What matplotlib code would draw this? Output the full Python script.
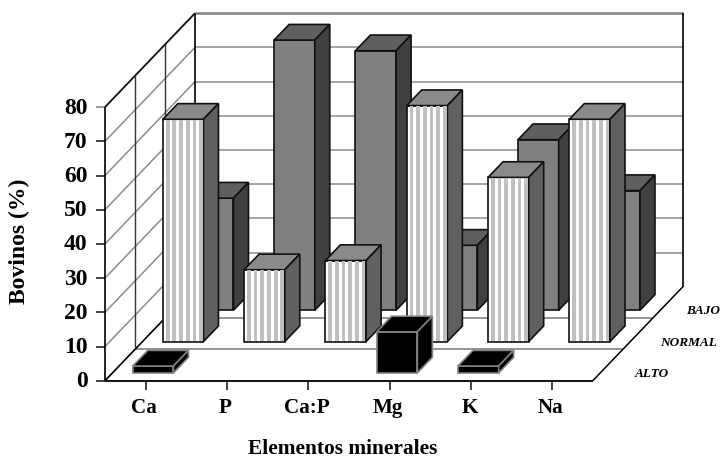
import matplotlib
matplotlib.use('Agg')
import matplotlib.pyplot as plt
from matplotlib.patches import Polygon, Rectangle

plt.rcParams['font.family'] = ['Liberation Serif', 'DejaVu Serif']

# Datos
categorias = ['Ca', 'P', 'Ca:P', 'Mg', 'K', 'Na']
filas = ['ALTO', 'NORMAL', 'BAJO']
alto = [2, 0, 0, 12, 2, 0]
normal = [65, 21, 23.7, 69, 48, 65]
bajo = [32.8, 79, 75.9, 19, 49.9, 35]
valores = [alto, normal, bajo]
ticks_y = [0, 10, 20, 30, 40, 50, 60, 70, 80]

# Proyeccion oblicua, en pixeles de la figura
x0, y0 = 105, 381.7
ancho_cat = 81.3
px_valor = 3.42
prof_x, prof_y = 30, 31.3
n_cat = len(categorias)
n_fil = len(filas)
v_max = ticks_y[-1]


def proy(c, f, v):
    # c: posicion de categoria, f: posicion de fila, v: valor
    return (x0 + c * ancho_cat + f * prof_x, y0 - f * prof_y - v * px_valor)


fig = plt.figure(figsize=(7.2, 4.6), dpi=100)
ax = fig.add_axes([0, 0, 1, 1])
ax.set_xlim(0, 720)
ax.set_ylim(460, 0)
ax.axis('off')


def linea(p, q, color, lw=1.0, z=1):
    ax.plot([p[0], q[0]], [p[1], q[1]], color=color, lw=lw, zorder=z, solid_capstyle='butt')


# Paredes: lineas de division
gris = '#8c8c8c'
for t in ticks_y:
    lw = 2.0 if t == v_max else 1.1
    if t > 0:
        linea(proy(0, n_fil, t), proy(n_cat, n_fil, t), gris, lw)
        linea(proy(0, 0, t), proy(0, n_fil, t), gris, lw if t < v_max else 1.6)
    linea((x0 - 9, y0 - t * px_valor), (x0, y0 - t * px_valor), '#222222' if t < v_max else gris, 1.2)

# Piso
for f in range(1, n_fil):
    linea(proy(0, f, 0), proy(n_cat, f, 0), gris, 1.3)
    linea(proy(0, f, 0), proy(0, f, v_max), '#333333', 1.0)

linea(proy(0, n_fil, 0), proy(0, n_fil, v_max), 'black', 1.2)
linea(proy(n_cat, n_fil, 0), proy(n_cat, n_fil, v_max), 'black', 1.2)
linea(proy(0, 0, 0), proy(0, 0, v_max), 'black', 1.2)
linea(proy(0, 0, 0), proy(0, n_fil, 0), 'black', 1.2)
linea(proy(0, 0, v_max), proy(0, n_fil, v_max), 'black', 0.9)
linea(proy(n_cat, 0, 0), proy(n_cat, n_fil, 0), 'black', 1.1)
linea(proy(0, 0, 0), proy(n_cat, 0, 0), '#111111', 1.4)
for i in range(n_cat):
    p = proy(i + 0.5, 0, 0)
    linea(p, (p[0], p[1] + 9), '#111111', 1.1)

# Estilo de cada fila: frente, tapa, lado, borde
estilos = [
    ('black', 'black', 'black', '#808080'),
    ('white', '#8a8a8a', '#606060', '#111111'),
    ('#808080', '#5f5f5f', '#404040', '#111111'),
]
periodo_raya = 6.67
ancho_raya = 3.7

z = 10
for f in range(n_fil - 1, -1, -1):
    frente, tapa, lado, borde = estilos[f]
    for c in range(n_cat):
        v = valores[f][c]
        if v == 0:
            continue
        c0, c1 = c + 0.25, c + 0.75
        f0, f1 = f + 0.25, f + 0.75
        caras = [
            ([proy(c0, f0, 0), proy(c1, f0, 0), proy(c1, f0, v), proy(c0, f0, v)], frente),
            ([proy(c0, f0, v), proy(c1, f0, v), proy(c1, f1, v), proy(c0, f1, v)], tapa),
            ([proy(c1, f0, 0), proy(c1, f1, 0), proy(c1, f1, v), proy(c1, f0, v)], lado),
        ]
        for puntos, color in caras:
            ax.add_patch(Polygon(puntos, closed=True, facecolor=color, edgecolor=borde,
                                 lw=1.2, joinstyle='miter', zorder=z))
        # Rayas verticales de la fila NORMAL
        if f == 1:
            xa, yb = proy(c0, f0, 0)
            xb, yt = proy(c1, f0, v)
            x = xa + 3
            while x < xb - 1:
                ax.add_patch(Rectangle((x, yt + 0.6), min(ancho_raya, xb - x - 0.6), yb - yt - 1.2,
                                       facecolor='#c0c0c0', edgecolor='none', zorder=z + 0.5))
                x += periodo_raya
        z += 1

# Textos
for t in ticks_y:
    ax.text(x0 - 17.5, y0 - t * px_valor, str(t), ha='right', va='center',
            fontsize=17, fontweight='bold', color='black')
for i, nombre in enumerate(categorias):
    p = proy(i + 0.5, 0, 0)
    ax.text(p[0] - 1.5, 408, nombre, ha='center', va='center', fontsize=15.2, fontweight='bold', color='black')
ax.text(19, 241.5, 'Bovinos (%)', rotation=90, ha='center', va='center', fontsize=17, fontweight='bold')
ax.text(343, 449, 'Elementos minerales', ha='center', va='center', fontsize=15.4, fontweight='bold')
for f, nombre in enumerate(filas):
    p = proy(n_cat, f + 0.5, 0)
    ax.text(p[0] + 27 - 4.5 * f, p[1] + 8, nombre, ha='left', va='center', fontsize=9.5,
            fontweight='bold', fontstyle='italic')

fig.savefig('out.png', dpi=100)
